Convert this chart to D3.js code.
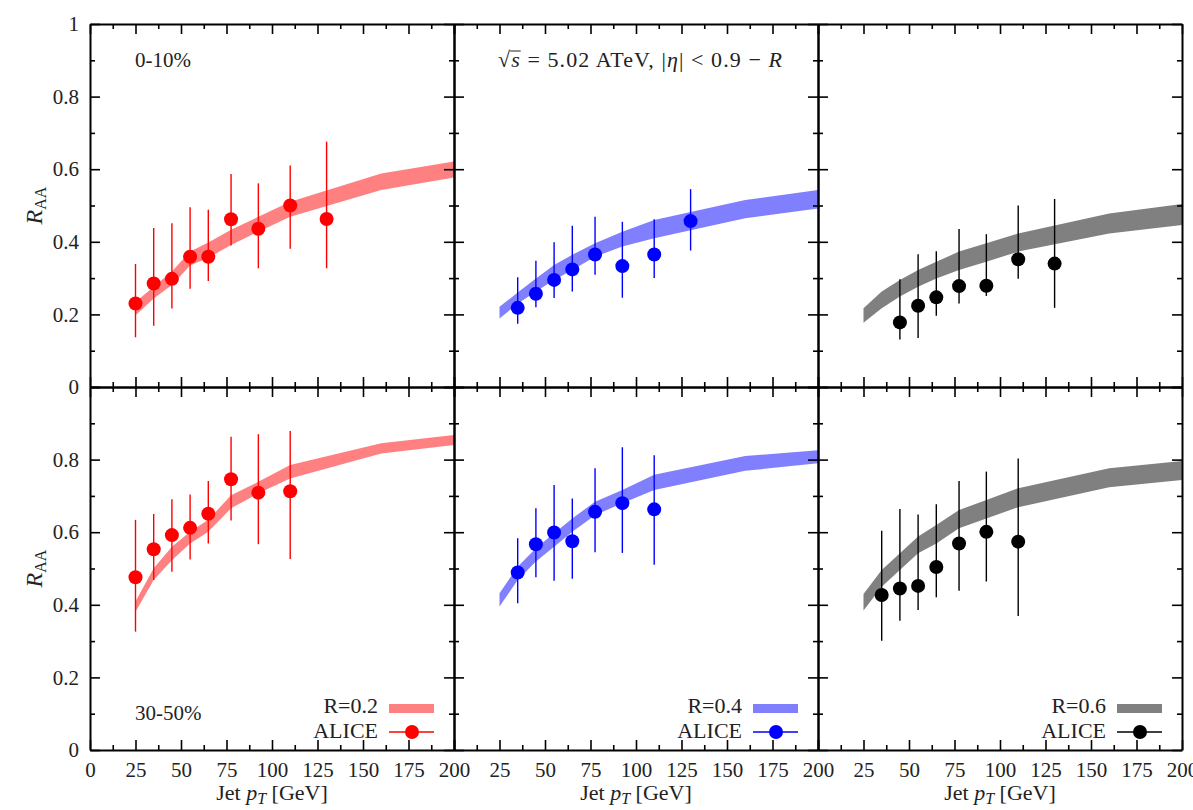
<!DOCTYPE html>
<html>
<head>
<meta charset="utf-8">
<script src="https://cdn.jsdelivr.net/npm/d3@7"></script>
<style>
body { margin: 0; background: #fff; }
.axis path, .axis line { stroke: #000; }
.axis path { stroke-width: 2; }
.axis line { stroke-width: 1.6; }
</style>
</head>
<body>
<svg id="chart"></svg>
<script>
var width = 1193;
var height = 810;
var left = 90;
var top0 = 24;
var panelW = 364;
var panelH = 363;
var fontSize = 22;
var tickFont = 21;
var serif = "'Liberation Serif', 'Times New Roman', Times, serif";

// theory band nodes (pT in GeV)
var ptTheory = [25, 35, 45, 55, 65, 77.5, 92.5, 110, 160, 200];
// band edges, Cent = 0-10%, Peri = 30-50%
var r02CentLo = [0.198, 0.244, 0.281, 0.335, 0.356, 0.391, 0.428, 0.469, 0.543, 0.577];
var r02CentHi = [0.234, 0.276, 0.318, 0.373, 0.398, 0.433, 0.469, 0.510, 0.588, 0.621];
var r02PeriLo = [0.381, 0.468, 0.523, 0.569, 0.601, 0.666, 0.707, 0.748, 0.817, 0.840];
var r02PeriHi = [0.409, 0.501, 0.560, 0.601, 0.634, 0.702, 0.739, 0.785, 0.845, 0.868];
var r04CentLo = [0.189, 0.229, 0.263, 0.295, 0.322, 0.359, 0.387, 0.410, 0.465, 0.492];
var r04CentHi = [0.221, 0.260, 0.299, 0.336, 0.364, 0.396, 0.428, 0.460, 0.515, 0.543];
var r04PeriLo = [0.395, 0.468, 0.519, 0.560, 0.601, 0.647, 0.680, 0.716, 0.769, 0.790];
var r04PeriHi = [0.432, 0.505, 0.556, 0.597, 0.638, 0.684, 0.716, 0.758, 0.810, 0.826];
var r06CentLo = [0.177, 0.217, 0.249, 0.276, 0.299, 0.322, 0.345, 0.373, 0.423, 0.446];
var r06CentHi = [0.217, 0.263, 0.295, 0.322, 0.345, 0.373, 0.396, 0.423, 0.478, 0.504];
var r06PeriLo = [0.384, 0.450, 0.496, 0.542, 0.569, 0.611, 0.638, 0.669, 0.724, 0.744];
var r06PeriHi = [0.430, 0.496, 0.542, 0.588, 0.620, 0.661, 0.689, 0.721, 0.776, 0.796];

// ALICE points: [pT, RAA, lower, upper]
var aliceR02Cent = [[25,0.230,0.137,0.339],[35,0.285,0.169,0.438],[45,0.298,0.216,0.451],[55,0.359,0.271,0.495],[65,0.359,0.292,0.488],[77.5,0.462,0.390,0.587],[92.5,0.436,0.327,0.561],[110,0.500,0.381,0.610],[130,0.463,0.327,0.676]];
var aliceR02Peri = [[25,0.476,0.326,0.634],[35,0.553,0.468,0.650],[45,0.592,0.491,0.691],[55,0.612,0.525,0.704],[65,0.651,0.569,0.741],[77.5,0.746,0.632,0.863],[92.5,0.709,0.567,0.870],[110,0.713,0.526,0.879]];
var aliceR04Cent = [[35,0.218,0.174,0.302],[45,0.257,0.220,0.348],[55,0.295,0.245,0.399],[65,0.324,0.263,0.444],[77.5,0.365,0.309,0.469],[92.5,0.333,0.246,0.455],[110,0.365,0.300,0.462],[130,0.457,0.376,0.545]];
var aliceR04Peri = [[35,0.489,0.404,0.583],[45,0.567,0.476,0.666],[55,0.599,0.466,0.730],[65,0.575,0.472,0.693],[77.5,0.656,0.545,0.776],[92.5,0.680,0.543,0.834],[110,0.663,0.510,0.812]];
var aliceR06Cent = [[45,0.178,0.131,0.297],[55,0.224,0.135,0.366],[65,0.247,0.196,0.374],[77.5,0.278,0.230,0.435],[92.5,0.279,0.251,0.421],[110,0.352,0.298,0.500],[130,0.340,0.218,0.518]];
var aliceR06Peri = [[35,0.427,0.301,0.604],[45,0.445,0.356,0.664],[55,0.452,0.386,0.649],[65,0.504,0.421,0.677],[77.5,0.569,0.439,0.741],[92.5,0.601,0.464,0.767],[110,0.574,0.369,0.803]];

var radii = ["R=0.2", "R=0.4", "R=0.6"];
var bandColors = ["#ff8080", "#8080ff", "#808080"];
var pointColors = ["#ff0000", "#0000ff", "#000000"];
var xTicks = [0, 25, 50, 75, 100, 125, 150, 175, 200];
var yTicks = [0, 0.2, 0.4, 0.6, 0.8, 1];

var panels = [
	{row: 0, col: 0, lo: r02CentLo, hi: r02CentHi, pts: aliceR02Cent},
	{row: 0, col: 1, lo: r04CentLo, hi: r04CentHi, pts: aliceR04Cent},
	{row: 0, col: 2, lo: r06CentLo, hi: r06CentHi, pts: aliceR06Cent},
	{row: 1, col: 0, lo: r02PeriLo, hi: r02PeriHi, pts: aliceR02Peri},
	{row: 1, col: 1, lo: r04PeriLo, hi: r04PeriHi, pts: aliceR04Peri},
	{row: 1, col: 2, lo: r06PeriLo, hi: r06PeriHi, pts: aliceR06Peri}
];

var x = d3.scaleLinear().domain([0, 200]).range([0, panelW]);
var y = d3.scaleLinear().domain([0, 1]).range([panelH, 0]);

var svg = d3.select("#chart")
	.attr("width", width)
	.attr("height", height)
	.attr("font-family", serif)
	.style("font-family", serif)
	.style("font-size", fontSize + "px")
	.attr("fill", "#222");

var xMinor = d3.range(12.5, 200, 25);
var yMinor = d3.range(0.1, 1, 0.2);

function ticks(g, axis, tx, ty) {
	var a = g.append("g").attr("class", "axis");
	if (tx || ty) a.attr("transform", "translate(" + tx + "," + ty + ")");
	a.call(axis);
	a.attr("font-family", null).attr("font-size", null);
	a.selectAll("text").attr("fill", "#222").style("font-family", serif).style("font-size", tickFont + "px");
	return a;
}

function drawFrame(g, p) {
	// minor ticks
	ticks(g, d3.axisLeft(y).tickValues(yMinor).tickSizeInner(-5).tickSizeOuter(0).tickFormat(""), 0, 0)
	.select(".domain").remove();
	ticks(g, d3.axisRight(y).tickValues(yMinor).tickSizeInner(-5).tickSizeOuter(0).tickFormat(""), panelW, 0)
	.select(".domain").remove();
	ticks(g, d3.axisBottom(x).tickValues(xMinor).tickSizeInner(-5).tickSizeOuter(0).tickFormat(""), 0, panelH)
	.select(".domain").remove();
	ticks(g, d3.axisTop(x).tickValues(xMinor).tickSizeInner(-5).tickSizeOuter(0).tickFormat(""), 0, 0)
	.select(".domain").remove();

	// major ticks and labels
	ticks(g, d3.axisLeft(y).tickValues(yTicks).tickSizeInner(-10).tickSizeOuter(0).tickPadding(11)
		.tickFormat(function(d) {
			if (p.col != 0) return "";
			if (p.row == 1 && d == 1) return "";
			return d3.format("")(d);
		}), 0, 0);
	ticks(g, d3.axisRight(y).tickValues(yTicks).tickSizeInner(-10).tickSizeOuter(0).tickFormat(""), panelW, 0);
	ticks(g, d3.axisBottom(x).tickValues(xTicks).tickSizeInner(-10).tickSizeOuter(0)
		.tickFormat(function(d) {
			if (p.row != 1) return "";
			if (p.col != 0 && d == 0) return "";
			return d;
		}), 0, panelH)
	.selectAll("text").attr("y", 27).attr("dy", 0);
	ticks(g, d3.axisTop(x).tickValues(xTicks).tickSizeInner(-10).tickSizeOuter(0).tickFormat(""), 0, 0);
}

var area = d3.area()
	.x(function(d) { return x(d[0]); })
	.y0(function(d) { return y(d[1]); })
	.y1(function(d) { return y(d[2]); });

panels.forEach(function(p) {
	var g = svg.append("g")
	.attr("transform", "translate(" + (left + p.col * panelW) + "," + (top0 + p.row * panelH) + ")");

	var band = ptTheory.map(function(pt, i) { return [pt, p.lo[i], p.hi[i]]; });
	g.append("path")
	.datum(band)
	.attr("d", area)
	.attr("fill", bandColors[p.col]);

	var pts = g.append("g").selectAll("g").data(p.pts).enter().append("g");
	pts.append("line")
	.attr("x1", function(d) { return x(d[0]); })
	.attr("x2", function(d) { return x(d[0]); })
	.attr("y1", function(d) { return y(d[2]); })
	.attr("y2", function(d) { return y(d[3]); })
	.attr("stroke", pointColors[p.col])
	.attr("stroke-width", 1.4);
	pts.append("circle")
	.attr("cx", function(d) { return x(d[0]); })
	.attr("cy", function(d) { return y(d[1]); })
	.attr("r", 7)
	.attr("fill", pointColors[p.col]);

	drawFrame(g, p);

	if (p.row == 1) {
		// legend
		g.append("text")
		.attr("x", 288).attr("y", 326)
		.attr("text-anchor", "end")
		.text(radii[p.col]);
		g.append("rect")
		.attr("x", 299).attr("y", 317)
		.attr("width", 45).attr("height", 9)
		.attr("fill", bandColors[p.col]);
		g.append("text")
		.attr("x", 288).attr("y", 351)
		.attr("text-anchor", "end")
		.text("ALICE");
		g.append("line")
		.attr("x1", 299).attr("x2", 344)
		.attr("y1", 345).attr("y2", 345)
		.attr("stroke", pointColors[p.col])
		.attr("stroke-width", 1.4);
		g.append("circle")
		.attr("cx", 322).attr("cy", 345).attr("r", 7)
		.attr("fill", pointColors[p.col]);
	}

	if (p.col == 0) {
		var yt = svg.append("text")
		.attr("transform", "translate(42," + (top0 + p.row * panelH + panelH / 2) + ") rotate(-90)")
		.attr("text-anchor", "middle");
		yt.append("tspan").attr("font-style", "italic").style("font-size", "24px").text("R");
		yt.append("tspan").style("font-size", "16px").attr("dy", 4).text("AA");
	}
	if (p.row == 1) {
		var xt = svg.append("text")
		.attr("x", left + p.col * panelW + panelW / 2)
		.attr("y", 800)
		.attr("text-anchor", "middle");
		xt.append("tspan").text("Jet ");
		xt.append("tspan").attr("font-style", "italic").text("p");
		xt.append("tspan").attr("font-style", "italic").style("font-size", "16px").attr("dy", 4).text("T");
		xt.append("tspan").attr("dy", -4).text(" [GeV]");
	}
});

svg.append("text").attr("x", 135).attr("y", 67).style("font-size", "21px").text("0-10%");
svg.append("text").attr("x", 135).attr("y", top0 + panelH + 333).style("font-size", "21px").text("30-50%");

// energy / acceptance label
var info = svg.append("text").attr("x", 498).attr("y", 67)
	.attr("textLength", 284).attr("lengthAdjust", "spacing");
info.append("tspan").text("\u221A");
var sq = info.append("tspan").attr("font-style", "italic").text("s");
info.append("tspan").text(" = 5.02 ATeV, |");
info.append("tspan").attr("font-style", "italic").text("\u03B7");
info.append("tspan").text("| < 0.9 \u2212 ");
info.append("tspan").attr("font-style", "italic").text("R");
var sqBox = sq.node().getBBox();
svg.append("line")
	.attr("x1", sqBox.x - 1).attr("x2", sqBox.x + sqBox.width + 1)
	.attr("y1", sqBox.y + 4).attr("y2", sqBox.y + 4)
	.attr("stroke", "#222").attr("stroke-width", 1);
</script>
</body>
</html>
